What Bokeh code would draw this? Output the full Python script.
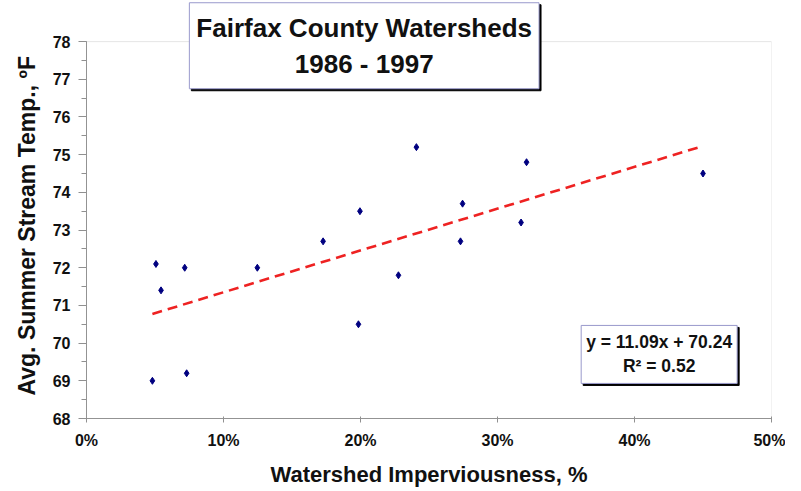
from bokeh.plotting import figure
from bokeh.models import (Range1d, SingleIntervalTicker, NumeralTickFormatter, Label,
                          ColumnDataSource, BoxAnnotation, Title)
from bokeh.embed import file_html
from bokeh.resources import INLINE

# ---- data ----
imperviousness = [0.0481, 0.0507, 0.0544, 0.0717, 0.0731, 0.1247, 0.1727, 0.1985, 0.1996,
                  0.2277, 0.2408, 0.2730, 0.2745, 0.3172, 0.3212, 0.4500]
stream_temp = [69.0, 72.1, 71.4, 72.0, 69.2, 72.0, 72.7, 70.5, 73.5,
               71.8, 75.2, 72.7, 73.7, 73.2, 74.8, 74.5]
trend_slope = 11.09
trend_intercept = 70.24
r_squared = 0.52
title_lines = ["Fairfax County Watersheds", "1986 - 1997"]
x_label = "Watershed Imperviousness, %"
y_label = "Avg. Summer Stream Temp., ºF"
x_min, x_max = 0.0, 0.5
y_min, y_max = 68, 78

FONT = "Liberation Sans"
TXT = "#111111"

# frame reaches the canvas top so the title box (which overhangs the plot area) is not clipped
y_headroom = 41 / 37.6
p = figure(width=785, height=491, x_range=Range1d(x_min, x_max),
           y_range=Range1d(y_min, y_max + y_headroom),
           output_backend="svg", toolbar_location=None,
           min_border_left=86, min_border_right=14, min_border_top=0, min_border_bottom=73)
p.background_fill_color = "white"
p.border_fill_color = "white"
p.outline_line_color = None
p.xgrid.visible = False
p.ygrid.visible = False

# plot-area border
p.add_layout(BoxAnnotation(left=x_min, right=x_max, bottom=y_min, top=y_max,
                           fill_alpha=0, line_color="#a8a8a8", line_width=1))

xa = p.xaxis[0]
xa.ticker = SingleIntervalTicker(interval=0.1, num_minor_ticks=0)
xa.formatter = NumeralTickFormatter(format="0%")
xa.axis_line_color = "#909090"
xa.major_tick_line_color = "#909090"
xa.major_tick_in = 2
xa.major_tick_out = 4
xa.minor_tick_out = 0
xa.minor_tick_in = 0
xa.major_label_standoff = 9
xa.major_label_text_font = FONT
xa.major_label_text_font_style = "bold"
xa.major_label_text_font_size = "16px"
xa.major_label_text_color = TXT
xa.axis_label = x_label
xa.axis_label_text_font = FONT
xa.axis_label_text_font_style = "bold"
xa.axis_label_text_font_size = "22px"
xa.axis_label_text_color = TXT
xa.axis_label_standoff = 10

ya = p.yaxis[0]
ya.bounds = (y_min, y_max)
ya.ticker = SingleIntervalTicker(interval=1, num_minor_ticks=2)
ya.axis_line_color = "#909090"
ya.major_tick_line_color = "#909090"
ya.minor_tick_line_color = "#909090"
ya.major_tick_in = 0
ya.major_tick_out = 8
ya.minor_tick_in = 0
ya.minor_tick_out = 5
ya.major_label_standoff = 8
ya.major_label_text_font = FONT
ya.major_label_text_font_style = "bold"
ya.major_label_text_font_size = "16px"
ya.major_label_text_color = TXT

# y-axis title as a side title, started just above the 68 line (frame includes headroom)
p.add_layout(Title(text=y_label, align="left", offset=23, standoff=20,
                   text_font=FONT, text_font_style="bold", text_font_size="23px",
                   text_color=TXT), "left")

# trend line over the data's x extent
x0, x1 = min(imperviousness), max(imperviousness)
p.line([x0, x1], [trend_slope * x0 + trend_intercept, trend_slope * x1 + trend_intercept],
       line_color="#ee2222", line_width=2.6, line_dash="10 6")

src = ColumnDataSource(dict(x=imperviousness, y=stream_temp))
p.scatter("x", "y", source=src, marker="diamond", size=7, fill_color="#000080", line_color="#000080")


def boxed(text, x, y, size, pad):
    common = dict(x=x, y=y, text=text,
                  text_font=FONT, text_font_style="bold", text_font_size=size,
                  text_align="center", text_baseline="middle", padding=pad)
    shadow = Label(x_offset=2, y_offset=-2, text_color="black",
                   background_fill_color="black", border_line_color="black", **common)
    main = Label(text_color=TXT, background_fill_color="white",
                 border_line_color="#9999cc", border_line_width=1, **common)
    p.add_layout(shadow)
    p.add_layout(main)


# title box centred at ~20% / 77.9 F, equation box at ~42% / 69.7 F
boxed("\n".join(title_lines), 0.2027, 77.89, "26px", dict(left=7, right=7, top=10, bottom=10))
eq_text = "y = %.2fx + %.2f\nR² = %.2f" % (trend_slope, trend_intercept, r_squared)
boxed(eq_text, 0.418, 69.7, "17.5px", dict(left=5, right=5, top=7, bottom=7))

open("out.html", "w").write(file_html(p, INLINE))
